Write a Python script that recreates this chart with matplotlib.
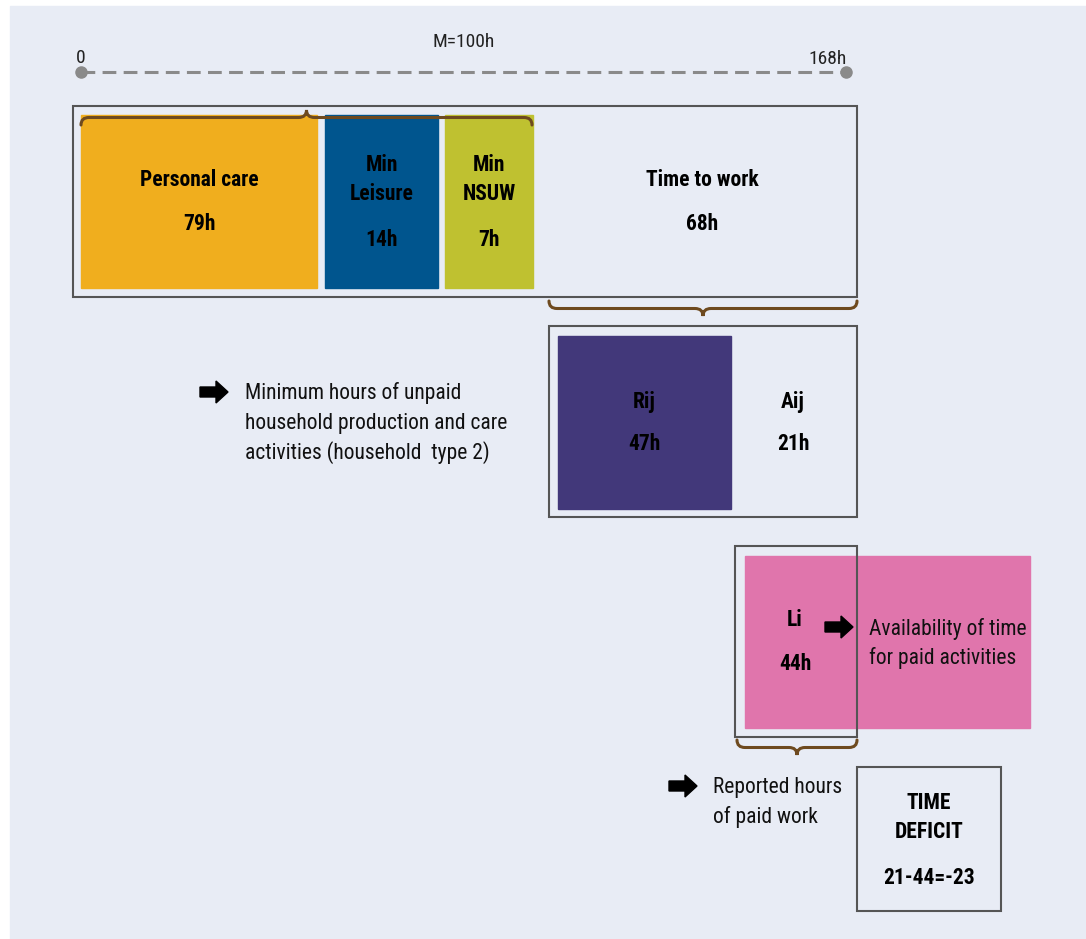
import numpy as np
import matplotlib
matplotlib.use("Agg")
import matplotlib.pyplot as plt
from matplotlib import font_manager
from matplotlib.patches import Rectangle, FancyArrow, PathPatch
from matplotlib.path import Path

# --- data (hours) ---
week_total = 168
m_total = 100
top_labels = ['Personal care', 'Min\nLeisure', 'Min\nNSUW']
top_hours = [79, 14, 7]
work_label = 'Time to work'
work_hours = 68
split_labels = ['Rij', 'Aij']
split_hours = [47, 21]
paid_label = 'Li'
paid_hours = 44
note_unpaid = ['Minimum hours of unpaid', 'household production and care',
               'activities (household  type 2)']
note_avail = ['Availability of time', 'for paid activities']
note_reported = ['Reported hours', 'of paid work']
deficit_lines = ['TIME', 'DEFICIT', '21-44=-23']

# --- styles ---
BG = '#E8ECF5'
EDGE = '#555555'
BRACE = '#6E4A1F'
top_colors = ['#F0AE1E', '#00558E', '#BFC130']
RIJ_COLOR = '#42387A'
PINK = '#E075AC'

names = {f.name for f in font_manager.fontManager.ttflist}
FONT = 'DejaVu Sans'
for cand in ['Roboto Condensed', 'Liberation Sans Narrow', 'Open Sans Condensed']:
    if cand in names:
        FONT = cand
        break
plt.rcParams['font.family'] = [FONT, 'DejaVu Sans']

fig = plt.figure(figsize=(10.86, 9.39), dpi=100)
ax = fig.add_axes([0, 0, 1, 1])
ax.set_xlim(0, 1086)
ax.set_ylim(939, 0)
ax.axis('off')

ax.add_patch(Rectangle((10, 6), 1076, 933, color=BG, zorder=0))


def box(x0, y0, x1, y1, **kw):
    ax.add_patch(Rectangle((x0, y0), x1 - x0, y1 - y0, **kw))


def brace(x0, x1, y0, d, r=8):
    # d > 0: tip points down, d < 0: tip points up
    xm = (x0 + x1) / 2
    verts = [(x0, y0), (x0, y0 + d), (x0 + r, y0 + d), (xm - r, y0 + d),
             (xm, y0 + d), (xm, y0 + 2 * d), (xm, y0 + d), (xm + r, y0 + d),
             (x1 - r, y0 + d), (x1, y0 + d), (x1, y0)]
    codes = [Path.MOVETO, Path.CURVE3, Path.CURVE3, Path.LINETO,
             Path.CURVE3, Path.CURVE3, Path.CURVE3, Path.CURVE3,
             Path.LINETO, Path.CURVE3, Path.CURVE3]
    ax.add_patch(PathPatch(Path(verts, codes), fill=False, ec=BRACE, lw=2.2,
                           capstyle='round', zorder=5))


def arrow(x, y):
    ax.add_patch(FancyArrow(x, y, 28, 0, width=10, head_width=22, head_length=12,
                            length_includes_head=True, color='black', zorder=6))


bold = dict(fontsize=15.5, fontweight='bold', ha='center', va='center', color='black', zorder=7)
norm = dict(fontsize=15.5, ha='left', va='center', color='#111111', zorder=7)
small = dict(fontsize=14, ha='center', va='center', color='#222222')

# scale line
ax.plot([81, 846], [72, 72], color='#8A8A8A', lw=2.2, dashes=(4.5, 2.4), zorder=3)
ax.plot([81, 846], [72, 72], 'o', color='#8A8A8A', ms=8, zorder=4)
ax.text(81, 58, '0', **small)
ax.text(828, 59, f'{week_total}h', **small)
ax.text(464, 42, f'M={m_total}h', **small)

# top block
box(73, 106, 857, 297, fill=False, ec=EDGE, lw=1.5, zorder=2)
xs = [(81, 317), (325, 438), (445, 533)]
for (a, b), c, lab, h in zip(xs, top_colors, top_labels, top_hours):
    box(a, 115, b, 288, color=c, zorder=2)
    cx = (a + b) / 2
    if '\n' in lab:
        l1, l2 = lab.split('\n')
        ax.text(cx, 165, l1, **bold)
        ax.text(cx, 194, l2, **bold)
        ax.text(cx, 240, f'{h}h', **bold)
    else:
        ax.text(cx, 180, lab, **bold)
        ax.text(cx, 224, f'{h}h', **bold)
ax.text(702, 180, work_label, **bold)
ax.text(702, 224, f'{work_hours}h', **bold)
brace(81, 532, 125, -7.5)

# time to work split
brace(549, 857, 301, 7.5)
box(549, 326, 857, 517, fill=False, ec=EDGE, lw=1.5, zorder=2)
box(558, 336, 731, 509, color=RIJ_COLOR, zorder=2)
for cx, lab, h in zip([644, 793], split_labels, split_hours):
    ax.text(cx, 402, lab, **bold)
    ax.text(cx, 444, f'{h}h', **bold)
arrow(200, 392)
for i, line in enumerate(note_unpaid):
    ax.text(245, 393 + 30 * i, line, **norm)

# paid work
box(745, 556, 1030, 728, color=PINK, zorder=2)
box(735, 546, 857, 737, fill=False, ec=EDGE, lw=1.5, zorder=3)
ax.text(795, 620, paid_label, **bold)
ax.text(795, 664, f'{paid_hours}h', **bold)
arrow(825, 627)
for i, line in enumerate(note_avail):
    ax.text(869, 629 + 29 * i, line, **norm)
brace(737, 857, 740, 7.5)

arrow(669, 786)
for i, line in enumerate(note_reported):
    ax.text(713, 787 + 30 * i, line, **norm)

# deficit
box(857, 767, 1001, 911, fill=False, ec=EDGE, lw=1.5, zorder=2)
for y, line in zip([803, 832, 878], deficit_lines):
    ax.text(929, y, line, **bold)

fig.savefig('out.png', dpi=100, facecolor='white')
